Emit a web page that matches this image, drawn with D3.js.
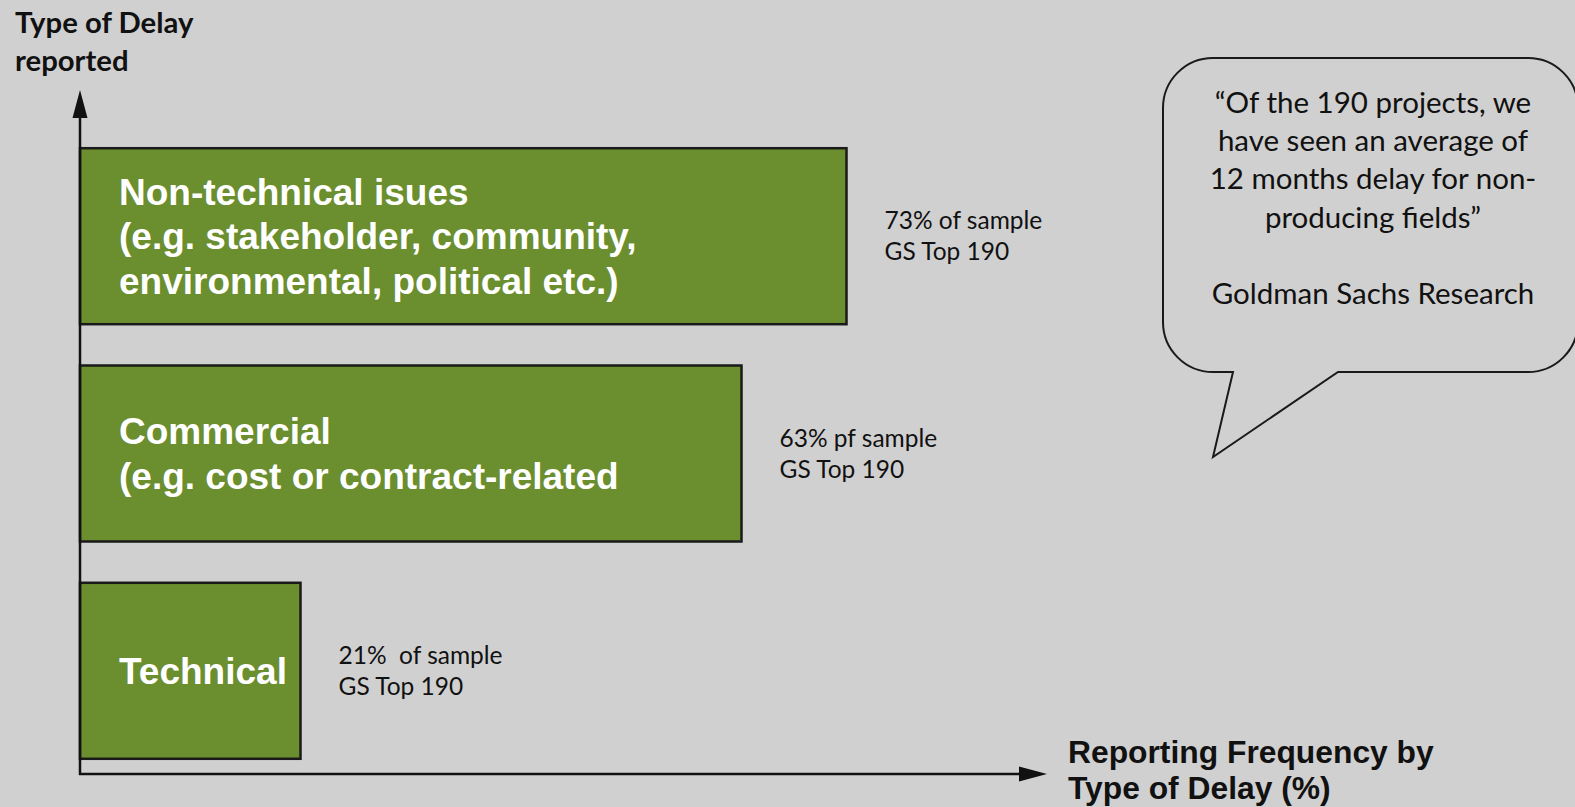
<!DOCTYPE html>
<html>
<head>
<meta charset="utf-8">
<script src="https://cdn.jsdelivr.net/npm/d3@7/dist/d3.min.js"></script>
<style>
  html, body { margin: 0; padding: 0; background: #d0d0d0; }
  svg { display: block; }
</style>
</head>
<body>
<svg id="chart" width="1575" height="807"></svg>
<script>
// ---- data ----
const categories = ["Non-technical", "Commercial", "Technical"];
const shares = [73, 63, 21];
const barLabels = [
  ["Non-technical isues", "(e.g. stakeholder, community,", "environmental, political etc.)"],
  ["Commercial", "(e.g. cost or contract-related"],
  ["Technical"]
];
const shareNotes = [
  ["73% of sample", "GS Top 190"],
  ["63% pf sample", "GS Top 190"],
  ["21%  of sample", "GS Top 190"]
];
const yTitle = ["Type of Delay", "reported"];
const xTitle = ["Reporting Frequency by", "Type of Delay (%)"];
const quoteLines = ["\u201cOf the 190 projects, we", "have seen an average of", "12 months delay for non-", "producing fields\u201d", "", "Goldman Sachs Research"];

// ---- layout ----
const W = 1575, H = 807;
const originX = 80, originY = 774;
const svg = d3.select("#chart");
const calibri = "Lato, 'Open Sans', sans-serif";
const arial = "'Liberation Sans', Arial, sans-serif";

svg.append("rect").attr("width", W).attr("height", H).attr("fill", "#d0d0d0");

const x = d3.scaleLinear().domain([0, 100]).range([originX, originX + 1050]);
const y = d3.scaleBand().domain(categories).range([133, originY]).paddingInner(0.19).paddingOuter(0.07);

const rows = categories.map((c, i) => ({ cat: c, value: shares[i], label: barLabels[i], note: shareNotes[i] }));

// bars
svg.append("g").selectAll("rect").data(rows).join("rect")
  .attr("x", originX)
  .attr("y", d => y(d.cat))
  .attr("width", d => x(d.value) - originX)
  .attr("height", y.bandwidth())
  .attr("fill", "#6b8e2f")
  .attr("stroke", "#1a1a1a")
  .attr("stroke-width", 2.5);

// bar labels
const lh = 44.5;
rows.forEach(d => {
  const cy = y(d.cat) + y.bandwidth() / 2;
  const n = d.label.length;
  const t = svg.append("text")
    .attr("font-family", arial).attr("font-weight", "bold").attr("font-size", 37)
    .attr("fill", "#ffffff");
  d.label.forEach((line, i) => {
    t.append("tspan").attr("x", originX + 39)
      .attr("y", cy + (i - (n - 1) / 2) * lh + 13)
      .text(line);
  });
  const nt = svg.append("text")
    .attr("font-family", calibri).attr("font-size", 24.5).attr("fill", "#111")
    .style("white-space", "pre");
  d.note.forEach((line, i) => {
    nt.append("tspan").attr("x", x(d.value) + 38)
      .attr("y", cy - 7 + i * 31)
      .text(line);
  });
});

// axes
const axisG = svg.append("g").attr("stroke", "#111").attr("stroke-width", 2.5).attr("fill", "none");
axisG.append("line").attr("x1", originX).attr("y1", originY + 1).attr("x2", originX).attr("y2", 112);
axisG.append("line").attr("x1", originX - 1).attr("y1", originY).attr("x2", 1025).attr("y2", originY);
svg.append("path").attr("d", d3.line()([[originX, 90], [originX - 7.5, 118], [originX + 7.5, 118]]) + "Z").attr("fill", "#111");
svg.append("path").attr("d", d3.line()([[1047, originY], [1019, originY - 7.5], [1019, originY + 7.5]]) + "Z").attr("fill", "#111");

// y title
const yt = svg.append("text").attr("font-family", calibri).attr("font-weight", "bold").attr("font-size", 29.3).attr("fill", "#111");
yTitle.forEach((line, i) => yt.append("tspan").attr("x", 15).attr("y", 33 + i * 38).text(line));

// x title
const xt = svg.append("text").attr("font-family", arial).attr("font-weight", "bold").attr("font-size", 31.8).attr("fill", "#111");
xTitle.forEach((line, i) => xt.append("tspan").attr("x", 1068).attr("y", 763 + i * 36).text(line));

// speech bubble
const bx0 = 1163, bx1 = 1578, by0 = 58, by1 = 372, r = 50;
const tail = [[1338, by1], [1213, 457], [1233, by1]];
const p = d3.path();
p.moveTo(bx0 + r, by0);
p.lineTo(bx1 - r, by0);
p.arcTo(bx1, by0, bx1, by0 + r, r);
p.lineTo(bx1, by1 - r);
p.arcTo(bx1, by1, bx1 - r, by1, r);
p.lineTo(tail[0][0], tail[0][1]);
p.lineTo(tail[1][0], tail[1][1]);
p.lineTo(tail[2][0], tail[2][1]);
p.lineTo(bx0 + r, by1);
p.arcTo(bx0, by1, bx0, by1 - r, r);
p.lineTo(bx0, by0 + r);
p.arcTo(bx0, by0, bx0 + r, by0, r);
p.closePath();
svg.append("path").attr("d", p.toString()).attr("fill", "#d0d0d0").attr("stroke", "#1a1a1a").attr("stroke-width", 2);

const qt = svg.append("text").attr("font-family", calibri).attr("font-size", 29.5).attr("fill", "#111").attr("text-anchor", "middle");
quoteLines.forEach((line, i) => qt.append("tspan").attr("x", 1373).attr("y", 113 + i * 38.2).text(line));
</script>
</body>
</html>
